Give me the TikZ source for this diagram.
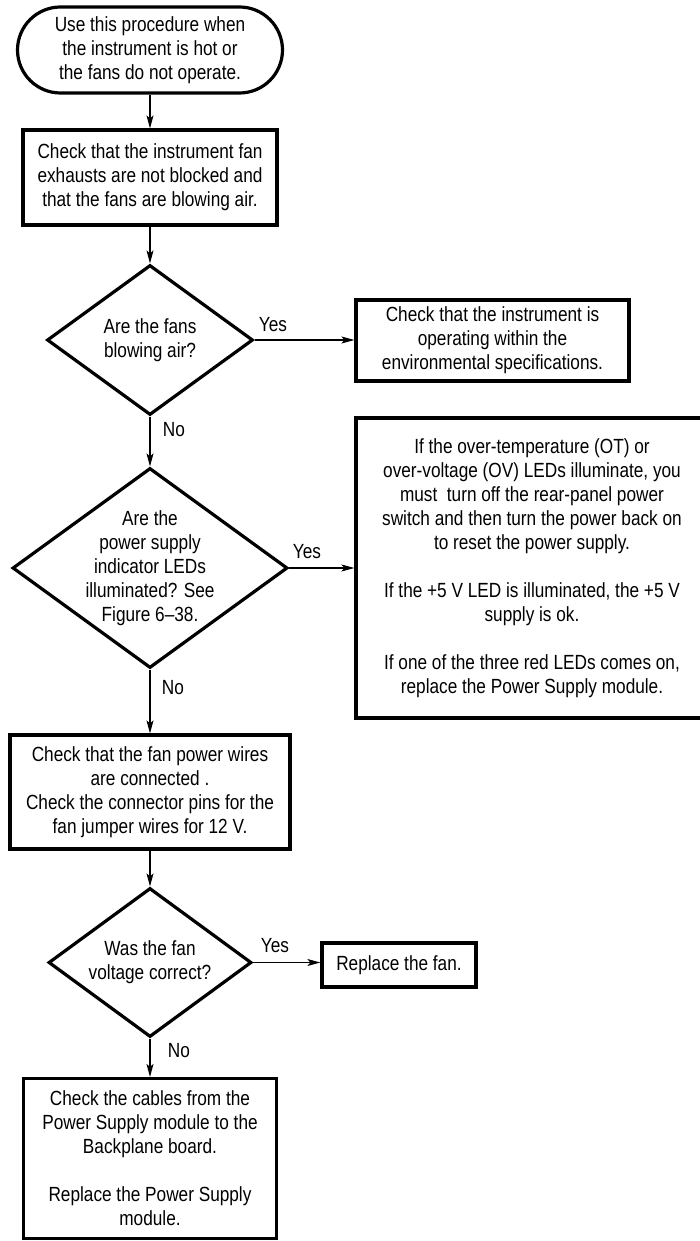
\documentclass[tikz,border=0pt]{standalone}
\usepackage{fontspec}
\setmainfont{Liberation Sans}[FakeStretch=0.84]
\usetikzlibrary{shapes.geometric,arrows.meta}

\begin{document}
\begin{tikzpicture}[x=1pt,y=-1pt,
  every node/.style={font=\fontsize{20.5}{24}\selectfont,align=center},
  box/.style={draw,line width=3.2pt,inner sep=0pt},
  decision/.style={draw,diamond,line width=3.2pt,inner sep=0pt},
  flow/.style={line width=1.2pt,-{Stealth[length=13pt,width=7pt,inset=3pt]}}]
\useasboundingbox (0,0) rectangle (700,1241);
% left column, top to bottom
\node[box,rounded corners=43pt,minimum width=265pt,minimum height=86pt] (start) at (150,50) {Use this procedure when\\the instrument is hot or\\the fans do not operate.};
\node[box,minimum width=254pt,minimum height=95pt] (exhaust) at (150,177.5) {Check that the instrument fan\\exhausts are not blocked and\\that the fans are blowing air.};
\node[decision,minimum width=206pt,minimum height=150pt] (blowing) at (150,340) {};
\node (blowingtext) at (blowing) {Are the fans\\blowing air?};
\node[decision,minimum width=275pt,minimum height=200pt] (leds) at (150,568) {};
\node (ledstext) at (leds) {Are the\\power supply\\indicator LEDs\\illuminated? See\\Figure 6--38.};
\node[box,minimum width=280pt,minimum height=114pt] (wires) at (150,792) {Check that the fan power wires\\are connected .\\Check the connector pins for the\\fan jumper wires for 12 V.};
\node[decision,minimum width=203pt,minimum height=149pt] (voltage) at (150,962.5) {};
\node (voltagetext) at (voltage) {Was the fan\\voltage correct?};
\node[box,minimum width=253pt,minimum height=160pt] (cables) at (150,1158.5) {Check the cables from the\\Power Supply module to the\\Backplane board.\\[24pt]Replace the Power Supply\\module.};
% right column
\node[box,minimum width=273pt,minimum height=81pt] (envspec) at (492.5,340.5) {Check that the instrument is\\operating within the\\environmental specifications.};
\node[box,minimum width=352pt,minimum height=300pt] (reset) at (532,568) {If the over-temperature (OT) or\\over-voltage (OV) LEDs illuminate, you\\must~ turn off the rear-panel power\\switch and then turn the power back on\\to reset the power supply.\\[24pt]If the +5 V LED is illuminated, the +5 V\\supply is ok.\\[24pt]If one of the three red LEDs comes on,\\replace the Power Supply module.};
\node[box,minimum width=154pt,minimum height=44pt] (fan) at (399,965) {Replace the fan.};
% connectors
\draw[flow] (start) -- (exhaust);
\draw[flow] (exhaust) -- (blowing);
\draw[flow] (blowing.east) -- (blowing.east -| envspec.west);
\draw[flow] (blowing) -- (leds);
\draw[flow] (leds.east) -- (leds.east -| reset.west);
\draw[flow] (leds) -- (wires);
\draw[flow] (wires) -- (voltage);
\draw[flow] (voltage.east) -- (voltage.east -| fan.west);
\draw[flow] (voltage) -- (cables);
% branch labels
\node (yes1) at (273,325) {Yes};
\node (no1) at (174,430) {No};
\node (yes2) at (307,552) {Yes};
\node (no2) at (173,688) {No};
\node (yes3) at (275,946) {Yes};
\node (no3) at (179,1051) {No};
\end{tikzpicture}
\end{document}
